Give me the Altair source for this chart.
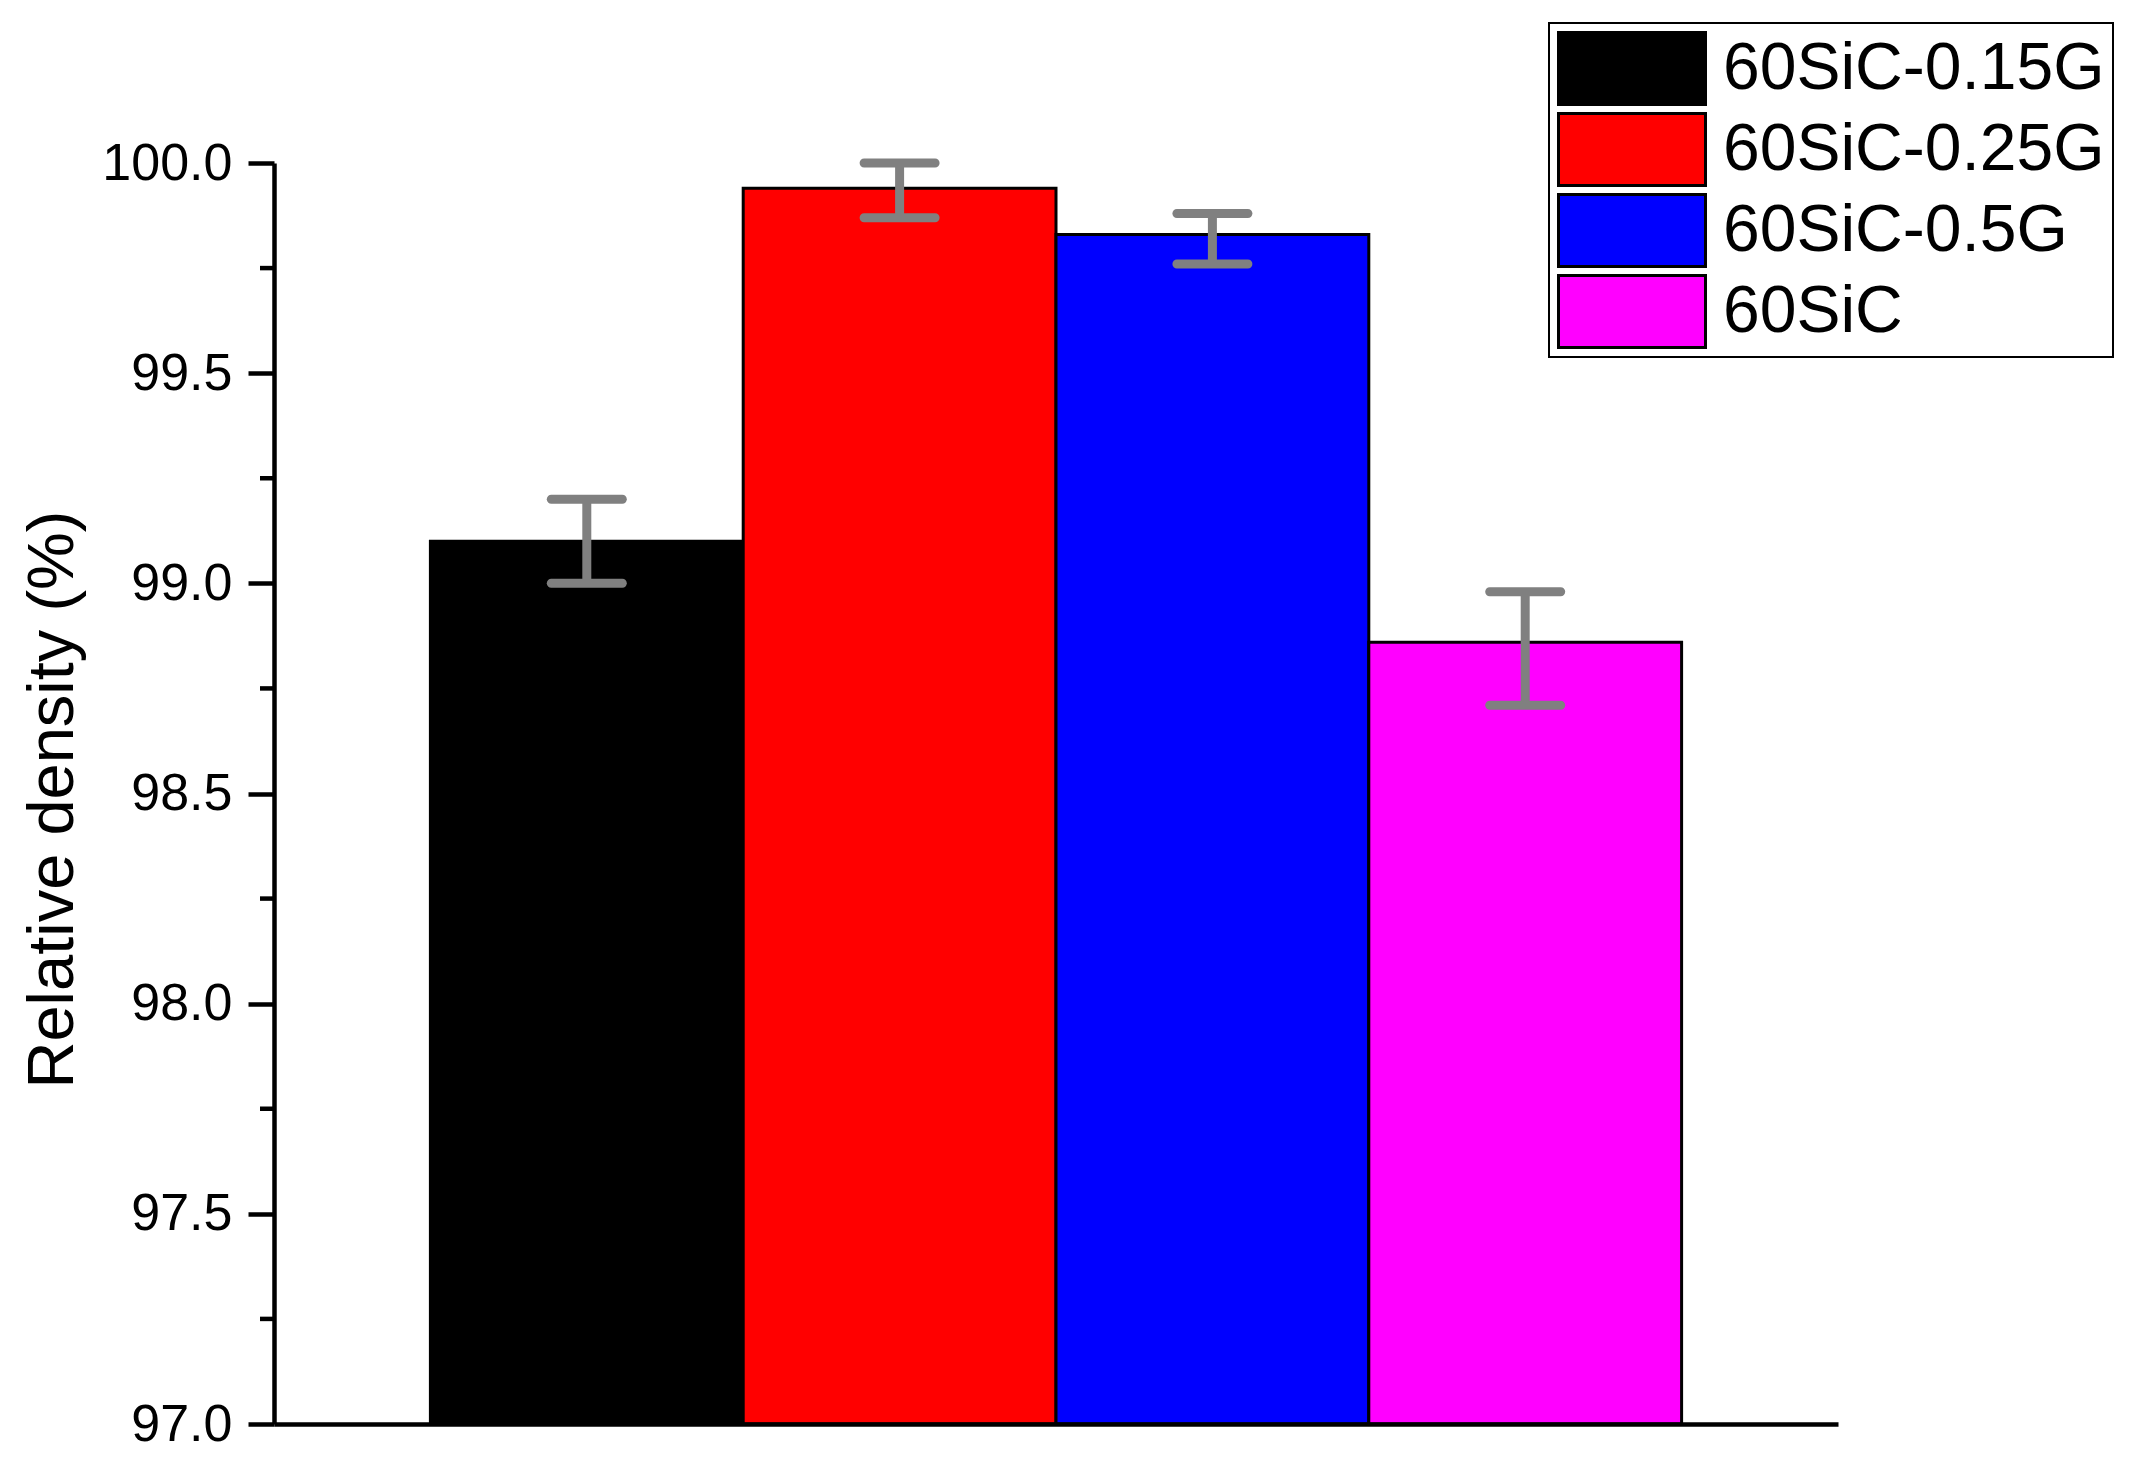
import altair as alt
import pandas as pd

# ---- data ----
categories = ["60SiC-0.15G", "60SiC-0.25G", "60SiC-0.5G", "60SiC"]
density = [99.10, 99.94, 99.83, 98.86]
err_low = [99.00, 99.87, 99.76, 98.71]
err_high = [99.20, 100.00, 99.88, 98.98]
colors = ["#000000", "#FF0000", "#0000FF", "#FF00FF"]

y_ticks = [97.0, 97.5, 98.0, 98.5, 99.0, 99.5, 100.0]
y_minor = [97.25, 97.75, 98.25, 98.75, 99.25, 99.75]
y_min, y_max = 97.0, 100.0

df = pd.DataFrame({"cat": categories, "density": density, "lo": err_low, "hi": err_high})
df_minor = pd.DataFrame({"m": y_minor})

FONT = "Liberation Sans"
W, H = 1564, 1261

x_enc = alt.X(
    "cat:N",
    sort=categories,
    scale=alt.Scale(paddingInner=0, paddingOuter=0.5),
    axis=alt.Axis(labels=False, ticks=False, title=None, domainColor="black",
                  domainWidth=4.5, zindex=1),
)
y_scale = alt.Scale(domain=[y_min, y_max], nice=False, zero=False)
y_axis = alt.Axis(
    values=y_ticks, format=".1f", grid=False,
    labelFont=FONT, labelFontSize=52, labelColor="black", labelPadding=16,
    tickSize=26, tickWidth=4.5, tickColor="black",
    domainColor="black", domainWidth=4.5,
    title="Relative density (%)", titleFont=FONT, titleFontSize=65,
    titleFontWeight="normal", titleColor="black",
    titleAngle=270, titleX=-202, titleY=636, titleAlign="center",
    titleBaseline="alphabetic", zindex=1,
)

bars = alt.Chart(df).mark_bar(stroke="black", strokeWidth=3, opacity=1).encode(
    x=x_enc,
    y=alt.Y("density:Q", scale=y_scale, axis=y_axis),
    y2=alt.datum(y_min),
    fill=alt.Fill(
        "cat:N",
        sort=categories,
        scale=alt.Scale(domain=categories, range=colors),
        legend=alt.Legend(
            title=None, orient="none", legendX=1275, legendY=-140,
            symbolType="M-1,-1H3.083V1H-1Z", symbolSize=5184,
            symbolStrokeColor="black", symbolStrokeWidth=3, symbolOpacity=1,
            labelFont=FONT, labelFontSize=66, labelColor="black",
            labelOffset=91, labelLimit=600, rowPadding=6, padding=8,
            clipHeight=75, strokeColor="black",
        ),
    ),
)

err_rule = alt.Chart(df).mark_rule(color="#808080", strokeWidth=9).encode(
    x=alt.X("cat:N", sort=categories),
    y=alt.Y("lo:Q"),
    y2="hi:Q",
)
cap_lo = alt.Chart(df).mark_tick(color="#808080", orient="horizontal", size=80,
                                 thickness=9, cornerRadius=4.5, opacity=1).encode(
    x=alt.X("cat:N", sort=categories),
    y=alt.Y("lo:Q"),
)
cap_hi = alt.Chart(df).mark_tick(color="#808080", orient="horizontal", size=80,
                                 thickness=9, cornerRadius=4.5, opacity=1).encode(
    x=alt.X("cat:N", sort=categories),
    y=alt.Y("hi:Q"),
)

minor = alt.Chart(df_minor).mark_rule(color="black", strokeWidth=4.5).encode(
    y=alt.Y("m:Q"),
    x=alt.value(-14),
    x2=alt.value(0),
)

chart = (
    alt.layer(bars, err_rule, cap_lo, cap_hi, minor)
    .properties(
        width=W, height=H,
        autosize=alt.AutoSizeParams(type="none"),
        padding={"left": 266, "top": 155, "right": 292, "bottom": 30},
        background="white",
    )
    .configure_view(stroke=None)
    .configure_legend(strokeWidth=2)
)

chart.save("out.html", embed_options={"renderer": "svg", "actions": False})
